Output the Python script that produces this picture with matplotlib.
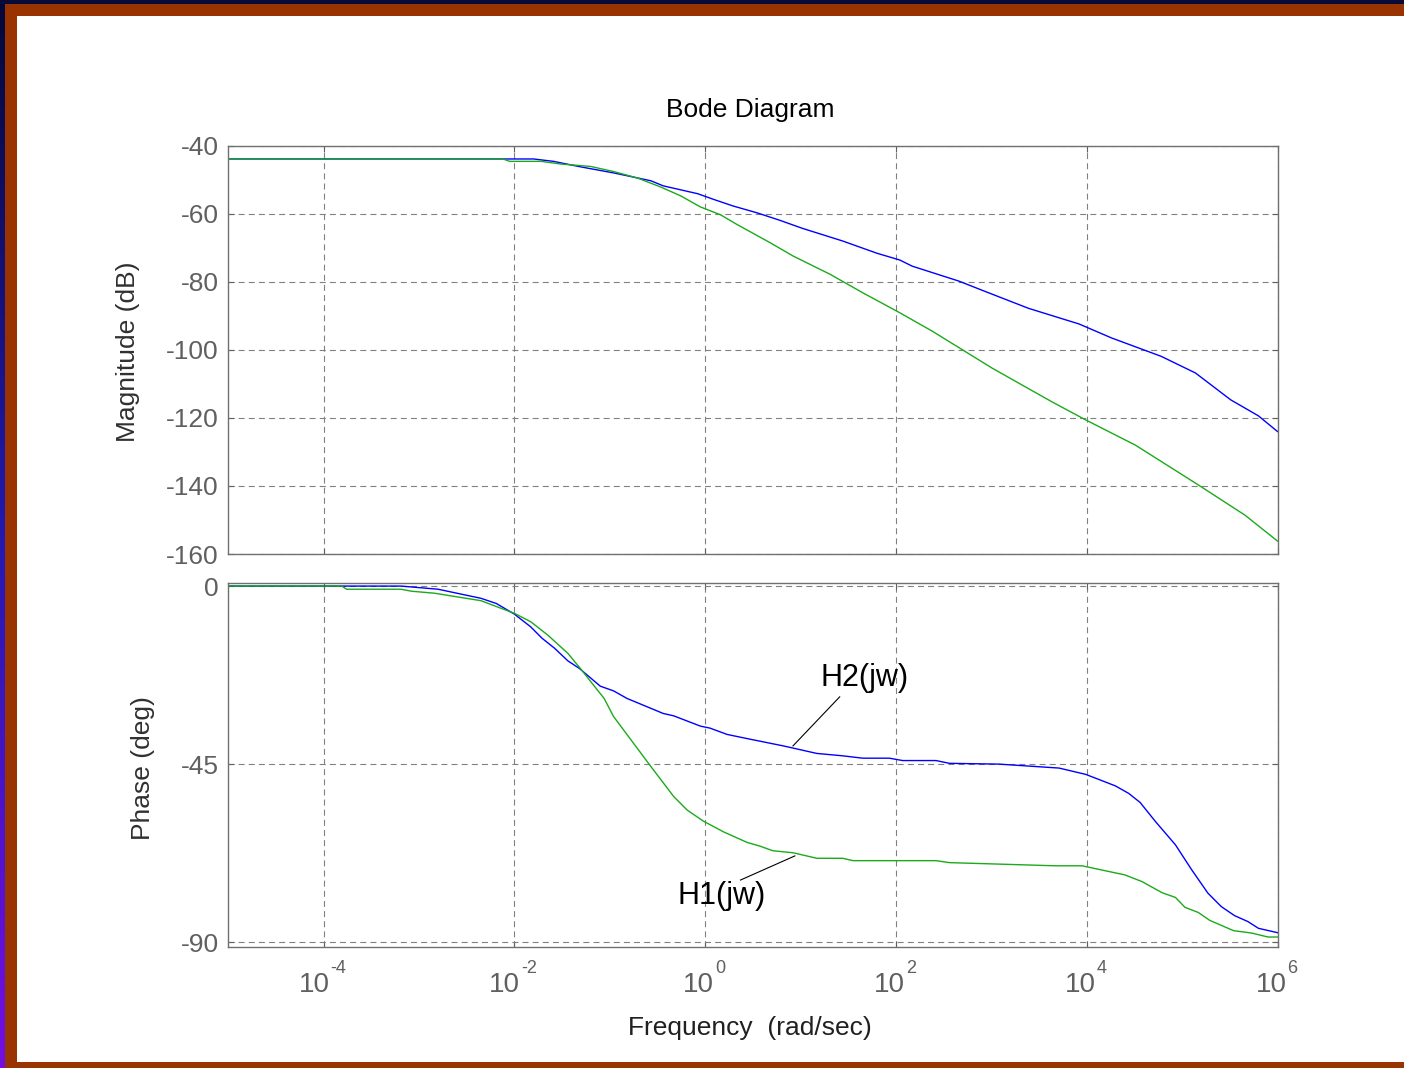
import numpy as np
import matplotlib
matplotlib.use("Agg")
import matplotlib.pyplot as plt
from matplotlib.patches import Rectangle

plt.rcParams['font.family'] = ['Liberation Sans', 'DejaVu Sans']
plt.rcParams['axes.unicode_minus'] = False
plt.rcParams['lines.scale_dashes'] = False

# frequency given as decade exponent (log10 of rad/sec)
mag_h2_exp = [-5, -1.80, -1.59, -1.31, -0.96, -0.57, -0.44, -0.08, 0.08, 0.29, 0.54, 0.78,
              1.02, 1.44, 1.80, 2.04, 2.17, 2.66, 2.95, 3.39, 3.92, 4.26, 4.78, 5.14,
              5.51, 5.80, 6.0]
mag_h2_db = [-43.9, -43.9, -44.6, -46.2, -48.0, -50.3, -51.8, -54.1, -55.7, -57.7, -59.7,
             -61.9, -64.3, -68.0, -71.6, -73.6, -75.4, -79.8, -83.0, -87.8, -92.4, -96.5,
             -101.9, -106.8, -114.7, -119.4, -124.0]

mag_h1_exp = [-5, -2.12, -2.05, -1.72, -1.51, -1.20, -0.96, -0.71, -0.47, -0.26, -0.05, 0.16,
              0.33, 0.68, 0.92, 1.31, 1.65, 2.04, 2.38, 3.01, 3.63, 3.99, 4.51, 5.17,
              5.66, 6.0]
mag_h1_db = [-43.9, -43.9, -44.6, -44.6, -45.4, -46.1, -47.6, -49.5, -52.1, -54.7, -58.0,
             -60.3, -63.1, -68.5, -72.4, -77.8, -83.2, -89.1, -94.5, -105.4, -115.2, -120.6,
             -128.0, -139.7, -148.6, -156.2]

ph_h2_exp = [-5, -3.19, -2.80, -2.35, -2.19, -2.00, -1.83, -1.71, -1.58, -1.44, -1.32, -1.10,
             -0.96, -0.82, -0.57, -0.44, -0.33, -0.05, 0.05, 0.23, 0.47, 0.82, 1.17, 1.44,
             1.65, 1.93, 2.07, 2.42, 2.56, 3.08, 3.71, 3.99, 4.30, 4.44, 4.56, 4.72, 4.93,
             5.10, 5.27, 5.41, 5.55, 5.69, 5.80, 6.0]
ph_h2_deg = [0, 0, -0.8, -3.1, -4.4, -7.1, -10.3, -13.2, -15.7, -18.9, -20.8, -25.3,
             -26.5, -28.4, -30.9, -32.2, -32.8, -35.4, -35.9, -37.5, -38.7, -40.4, -42.3,
             -42.9, -43.5, -43.5, -44.1, -44.1, -44.8, -45.0, -46.0, -47.6, -50.5, -52.4,
             -54.7, -59.5, -65.4, -71.7, -77.6, -81.0, -83.3, -84.8, -86.5, -87.6]

ph_h1_exp = [-5, -3.81, -3.76, -3.19, -3.08, -2.84, -2.35, -2.00, -1.83, -1.65, -1.44, -1.31,
             -1.06, -0.96, -0.57, -0.33, -0.19, -0.02, 0.19, 0.44, 0.57, 0.71, 0.92, 1.17,
             1.44, 1.55, 2.42, 2.56, 3.67, 3.95, 4.40, 4.58, 4.79, 4.93, 5.03, 5.17, 5.29,
             5.54, 5.73, 5.90, 6.0]
ph_h1_deg = [0, 0, -0.8, -0.8, -1.3, -1.8, -3.7, -6.9, -9.0, -12.4, -17.0, -20.8,
             -28.4, -33.0, -45.6, -53.2, -56.6, -59.4, -62.1, -64.8, -65.7, -66.9, -67.4,
             -68.8, -68.8, -69.4, -69.4, -69.9, -70.7, -70.7, -73.0, -74.7, -77.5, -78.7,
             -81.2, -82.5, -84.5, -87.1, -87.7, -88.7, -88.7]

mag_ticks = [-160, -140, -120, -100, -80, -60, -40]
ph_ticks = [-90, -45, 0]
freq_ticks = [1e-4, 1e-2, 1e0, 1e2, 1e4, 1e6]
freq_exponents = ['-4', '-2', '0', '2', '4', '6']

BLUE = '#0000ff'
GREEN = '#1aaa1a'
GRID = '#808080'
TICKTXT = '#606060'

W, H = 1404, 1068
fig = plt.figure(figsize=(W / 100, H / 100), dpi=100)
fig.patch.set_facecolor('white')

# slide frame drawn in pixel coords
bg = fig.add_axes([0, 0, 1, 1], zorder=-10)
bg.axis('off')
stops = np.array([[5, 8, 55], [35, 25, 175], [115, 15, 225]]) / 255
t = np.linspace(0, 1, 256)
img = np.stack([np.interp(t, [0, 0.5, 1], stops[:, k]) for k in range(3)], axis=-1)[:, None, :]
bg.imshow(img, extent=[0, 5, H, 0], aspect='auto', interpolation='bilinear')
bg.add_patch(Rectangle((0, 0), W, 4, color='#080a38', lw=0))
bg.add_patch(Rectangle((5, 4), W, 12, color='#993300', lw=0))
bg.add_patch(Rectangle((5, 4), 12, H, color='#993300', lw=0))
bg.add_patch(Rectangle((5, 1062), W, 6, color='#993300', lw=0))
bg.set_xlim(0, W)
bg.set_ylim(H, 0)

left, width = 228.3 / W, 1049.2 / W
ax1 = fig.add_axes([left, 1 - 554 / H, width, 408.3 / H])
ax2 = fig.add_axes([left, 1 - 947.3 / H, width, 364 / H])

ax1.plot(10 ** np.array(mag_h2_exp), mag_h2_db, color=BLUE, lw=1.0)
ax1.plot(10 ** np.array(mag_h1_exp), mag_h1_db, color=GREEN, lw=1.0)
ax2.plot(10 ** np.array(ph_h2_exp), ph_h2_deg, color=BLUE, lw=1.0)
ax2.plot(10 ** np.array(ph_h1_exp), ph_h1_deg, color=GREEN, lw=1.0)

for ax in (ax1, ax2):
    ax.set_xscale('log')
    ax.set_xlim(1e-5, 1e6)
    ax.set_xticks(freq_ticks)
    ax.set_xticklabels([])
    ax.minorticks_off()
    ax.grid(True, color=GRID, lw=0.8, linestyle=(0, (4.3, 3.0)))
    ax.tick_params(direction='in', length=4, width=0.8, color='#606060',
                   top=True, right=True, labelsize=19, labelcolor=TICKTXT, pad=7)
    for s in ax.spines.values():
        s.set_color('#707070')
        s.set_linewidth(1.0)

ax1.set_ylim(-160, -40)
ax1.set_yticks(mag_ticks)
ax2.set_ylim(-91.3, 0.7)
ax2.set_yticks(ph_ticks)

# MATLAB-style "10^n" tick labels: base and raised exponent, hyphen minus
base_px = 2 * 0.556 * 20 / 0.72
trans = ax2.get_xaxis_transform()
for tk, ex in zip(freq_ticks, freq_exponents):
    sup_px = (0.333 * ex.count('-') + 0.556 * len(ex.replace('-', ''))) * 13 / 0.72
    xoff = (base_px - sup_px) / 2 - 1.5
    ax2.annotate('10', xy=(tk, 0), xycoords=trans, xytext=(xoff, -44.7),
                 textcoords='offset pixels', ha='right', va='baseline',
                 fontsize=20, color=TICKTXT)
    ax2.annotate(ex, xy=(tk, 0), xycoords=trans, xytext=(xoff + 1, -26),
                 textcoords='offset pixels', ha='left', va='baseline',
                 fontsize=13, color=TICKTXT)

ax1.set_ylabel('Magnitude (dB)', fontsize=19, color='#303030', va='center')
ax1.yaxis.set_label_coords(-0.0956, 0.495)
ax2.set_ylabel('Phase (deg)', fontsize=19, color='#303030', va='center')
ax2.yaxis.set_label_coords(-0.0813, 0.493)
ax2.set_xlabel('Frequency  (rad/sec)', fontsize=19, color='#202020', va='center')
ax2.xaxis.set_label_coords(0.497, -0.2217)
ax1.text(0.497, 1.087, 'Bode Diagram', transform=ax1.transAxes, ha='center', va='center',
         fontsize=19, color='black')

# curve labels with leader lines
ax2.plot([10 ** 1.41, 10 ** 0.92], [-28.0, -40.4], color='black', lw=0.8)
ax2.text(10 ** 1.67, -23.2, 'H2(jw)', fontsize=22, ha='center', va='center', color='black')
ax2.plot([10 ** 0.37, 10 ** 0.94], [-74.3, -68.2], color='black', lw=0.8)
ax2.text(10 ** 0.17, -78.3, 'H1(jw)', fontsize=22, ha='center', va='center', color='black')

fig.savefig('out.png', dpi=100)
